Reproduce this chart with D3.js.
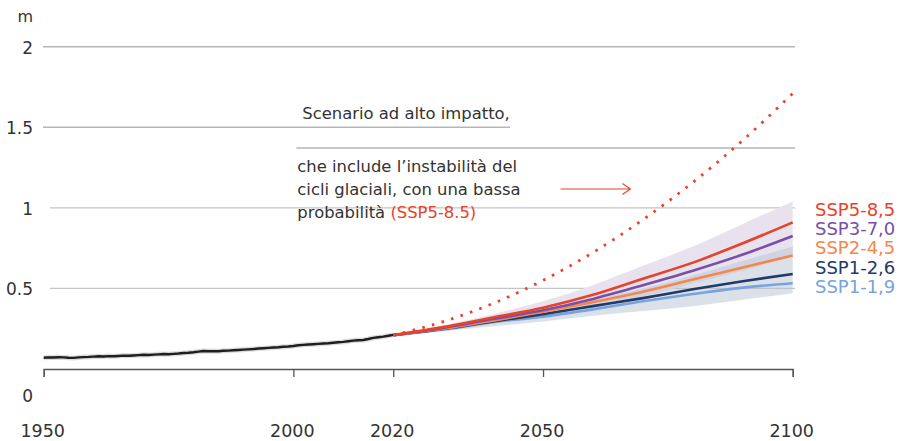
<!DOCTYPE html>
<html>
<head>
<meta charset="utf-8">
<script src="https://cdn.jsdelivr.net/npm/d3@7"></script>
<style>
  body { margin: 0; background: #fff; }
  svg text { font-family: "DejaVu Sans", sans-serif; fill: #333; }
</style>
</head>
<body>
<div id="chart"></div>
<script>
// osservato 1950-2020 (m)
const histYears = d3.range(1950, 2021);
const histValues = [
  0.070, 0.072, 0.071, 0.073, 0.072, 0.070, 0.069, 0.072, 0.074, 0.075,
  0.077, 0.079, 0.078, 0.080, 0.079, 0.081, 0.083, 0.082, 0.084, 0.086,
  0.088, 0.087, 0.089, 0.091, 0.093, 0.092, 0.094, 0.096, 0.099, 0.101,
  0.104, 0.108, 0.112, 0.110, 0.111, 0.110, 0.113, 0.114, 0.116, 0.118,
  0.120, 0.122, 0.124, 0.127, 0.129, 0.131, 0.133, 0.135, 0.138, 0.140,
  0.143, 0.147, 0.150, 0.152, 0.154, 0.156, 0.158, 0.160, 0.163, 0.166,
  0.168, 0.172, 0.176, 0.178, 0.180, 0.186, 0.193, 0.197, 0.201, 0.206,
  0.212
];

// proiezioni
const projYears = [2020, 2030, 2040, 2050, 2060, 2070, 2080, 2090, 2100];
const ssp585 = [0.21, 0.26, 0.32, 0.38, 0.46, 0.56, 0.66, 0.78, 0.91];
const ssp370 = [0.21, 0.255, 0.31, 0.365, 0.435, 0.52, 0.61, 0.71, 0.825];
const ssp245 = [0.21, 0.25, 0.30, 0.355, 0.415, 0.48, 0.555, 0.63, 0.705];
const ssp126 = [0.21, 0.248, 0.295, 0.34, 0.39, 0.44, 0.495, 0.545, 0.59];
const ssp119 = [0.21, 0.245, 0.29, 0.325, 0.37, 0.42, 0.465, 0.505, 0.532];
const highImpact = [0.21, 0.294, 0.407, 0.55, 0.723, 0.926, 1.158, 1.419, 1.71];

// fasce di incertezza
const band585Low = [0.21, 0.24, 0.29, 0.34, 0.39, 0.45, 0.53, 0.61, 0.70];
const band585High = [0.21, 0.27, 0.34, 0.42, 0.52, 0.64, 0.76, 0.90, 1.04];
const band126Low = [0.21, 0.235, 0.265, 0.295, 0.33, 0.36, 0.39, 0.43, 0.47];
const band126High = [0.21, 0.255, 0.305, 0.36, 0.43, 0.50, 0.58, 0.67, 0.76];

const xTicks = [1950, 2000, 2020, 2050, 2100];
const yTicks = [0.5, 1, 1.5, 2];
const scenarioNames = ['SSP5-8,5', 'SSP3-7,0', 'SSP2-4,5', 'SSP1-2,6', 'SSP1-1,9'];
const noteTitle = 'Scenario ad alto impatto,';
const noteLines = ['che include l\u2019instabilità del', 'cicli glaciali, con una bassa', 'probabilità '];
const noteTag = '(SSP5-8.5)';

const colors = {
  'SSP5-8,5': '#e8412c',
  'SSP3-7,0': '#7a4fa6',
  'SSP2-4,5': '#f4874b',
  'SSP1-2,6': '#213a66',
  'SSP1-1,9': '#78a3de'
};
const seriesMap = {
  'SSP5-8,5': ssp585, 'SSP3-7,0': ssp370, 'SSP2-4,5': ssp245,
  'SSP1-2,6': ssp126, 'SSP1-1,9': ssp119
};

const W = 905, H = 441;
const svg = d3.select('#chart').append('svg')
  .attr('width', W).attr('height', H);

const x = d3.scaleLinear().domain([1950, 2100]).range([43.7, 792.7]);
const y = d3.scaleLinear().domain([0, 2]).range([369, 46.7]);

// griglia
yTicks.forEach(v => {
  const x1 = v >= 1.5 ? 43 : 50;
  const x2 = v === 1.5 ? 510 : 795;
  svg.append('line')
    .attr('x1', x1).attr('x2', x2)
    .attr('y1', y(v)).attr('y2', y(v))
    .attr('stroke', v >= 1.5 ? '#b5b5b5' : '#c4c4c4')
    .attr('stroke-width', v >= 1.5 ? 1.6 : 1.2);
});
// linea sotto il titolo della nota
svg.append('line')
  .attr('x1', x(2000) + 3).attr('x2', 795)
  .attr('y1', y(1.371)).attr('y2', y(1.371))
  .attr('stroke', '#b5b5b5').attr('stroke-width', 1.6);

// etichette asse y
svg.append('text').attr('x', 33).attr('y', 22).attr('text-anchor', 'end')
  .style('font-size', '16px').text('m');
svg.selectAll('.ylab').data(yTicks).enter().append('text')
  .attr('class', 'ylab')
  .attr('x', 33).attr('y', d => y(d) + 7)
  .attr('text-anchor', 'end')
  .style('font-size', '17px')
  .text(d => d);
svg.append('text').attr('x', 33).attr('y', y(0) + 33).attr('text-anchor', 'end')
  .style('font-size', '17px').text('0');

// asse x
const xAxis = svg.append('g')
  .attr('transform', `translate(0,${y(0)})`)
  .call(d3.axisBottom(x).tickValues(xTicks).tickFormat(d3.format('d'))
    .tickSize(8).tickSizeOuter(8).tickPadding(48));
xAxis.select('.domain').attr('stroke', '#555').attr('stroke-width', 1.3);
xAxis.selectAll('.tick line').attr('stroke', '#555').attr('stroke-width', 1.3);
xAxis.selectAll('.tick text')
  .style('font-family', '"DejaVu Sans", sans-serif')
  .style('font-size', '17.5px').attr('fill', '#333').attr('dx', -1.5);

// fasce
const area = (lo, hi) => d3.area()
  .x((d, i) => x(projYears[i]))
  .y0((d, i) => y(lo[i]))
  .y1((d, i) => y(hi[i]))
  .curve(d3.curveMonotoneX)(projYears);

svg.append('path').attr('d', area(band585Low, band585High))
  .attr('fill', '#e7e2ee');
svg.append('path').attr('d', area(band126Low, band126High))
  .attr('fill', 'rgb(186,196,212)').attr('fill-opacity', 0.5);

// scenari
const line = d3.line()
  .x((d, i) => x(projYears[i]))
  .y(d => y(d))
  .curve(d3.curveMonotoneX);

scenarioNames.slice().reverse().forEach(name => {
  svg.append('path')
    .datum(seriesMap[name])
    .attr('d', line)
    .attr('fill', 'none')
    .attr('stroke', colors[name])
    .attr('stroke-width', 2.6);
});

// scenario ad alto impatto (punteggiato)
svg.append('path')
  .datum(highImpact)
  .attr('d', line)
  .attr('fill', 'none')
  .attr('stroke', '#e8412c')
  .attr('stroke-width', 2.8)
  .attr('stroke-dasharray', '2.6 7.4');

// osservato
const histLine = d3.line()
  .x((d, i) => x(histYears[i]))
  .y(d => y(d));
svg.append('path').datum(histValues).attr('d', histLine)
  .attr('fill', 'none').attr('stroke', '#dcdcdc').attr('stroke-width', 5);
svg.append('path').datum(histValues).attr('d', histLine)
  .attr('fill', 'none').attr('stroke', '#1e1e1e').attr('stroke-width', 2.4);

// legenda
svg.selectAll('.leg').data(scenarioNames).enter().append('text')
  .attr('class', 'leg')
  .attr('x', 815)
  .attr('y', (d, i) => 216 + i * 19.2)
  .style('font-size', '18px')
  .style('fill', d => colors[d])
  .text(d => d);

// nota
const noteX = x(2000) + 4;
svg.append('text').attr('x', noteX + 5).attr('y', 119)
  .style('font-size', '16.4px').text(noteTitle);
const note = svg.append('g').style('font-size', '16.4px');
noteLines.forEach((t, i) => {
  const tx = note.append('text').attr('x', noteX).attr('y', 172 + i * 23).text(t);
  if (i === noteLines.length - 1) {
    tx.append('tspan').style('fill', '#e8412c').text(noteTag);
  }
});

// freccia
const ax1 = x(2053.5), ax2 = x(2067.5), ay = y(1.117);
svg.append('path')
  .attr('d', `M${ax1},${ay}H${ax2}M${ax2 - 8},${ay - 5.5}L${ax2},${ay}L${ax2 - 8},${ay + 5.5}`)
  .attr('fill', 'none').attr('stroke', '#e8412c').attr('stroke-width', 1.1);
</script>
</body>
</html>
